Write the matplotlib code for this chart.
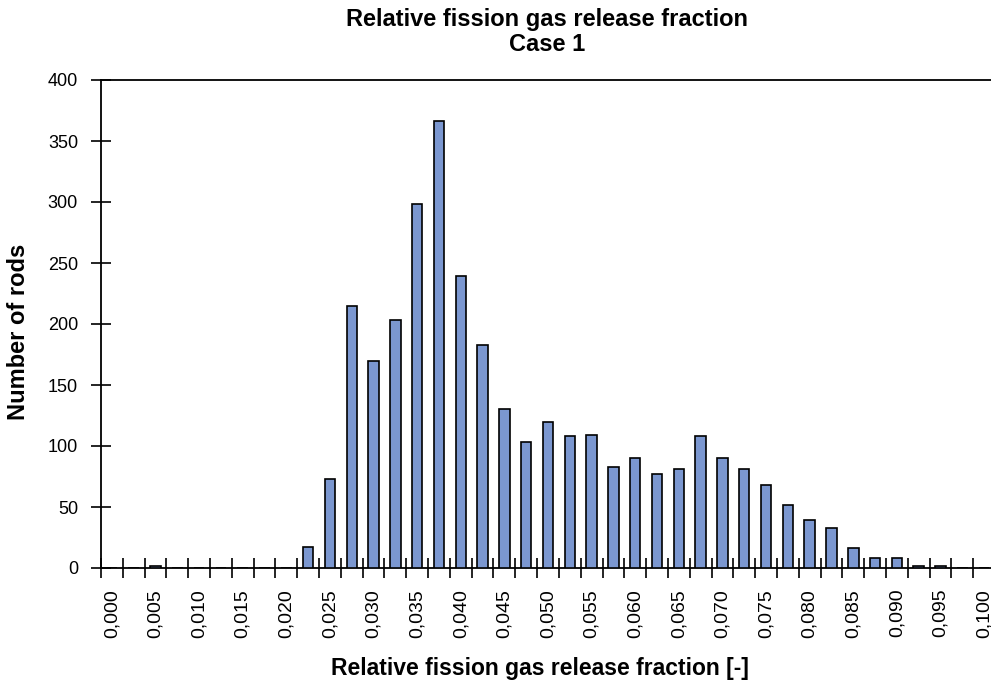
import numpy as np
import matplotlib
matplotlib.use('Agg')
import matplotlib.pyplot as plt

plt.rcParams['font.family'] = ['Liberation Sans', 'DejaVu Sans']

# bin centres 0.000 .. 0.100 in steps of 0.0025 (category axis)
bins = [f"{0.0025 * i:.4f}" for i in range(41)]
counts = [0, 0, 1.5, 0, 0, 0, 0, 0, 0, 17,
          73, 215, 170, 203, 298, 366, 239, 183, 130, 103,
          120, 108, 109, 83, 90, 77, 81, 108, 90, 81,
          68, 52, 39, 33, 16, 8, 8, 1.5, 1.5, 0,
          0]
tick_labels = [f"{0.005 * i:.3f}".replace('.', ',') for i in range(21)]

W, H = 991, 684
fig = plt.figure(figsize=(W / 100, H / 100), dpi=100)
# plot area runs a little past the right edge of the image, as in the original
ax = fig.add_axes([101 / W, 1 - 568 / H, 894 / W, (568 - 80) / H])

x = np.arange(len(bins))
ax.bar(x, counts, width=0.48, color='#7b97d0', edgecolor='black', linewidth=1.2, zorder=3)

ax.set_xlim(-0.5, len(bins) - 0.5)
ax.set_ylim(0, 400)
ax.set_yticks(np.arange(0, 401, 50))
ax.set_xticks(x[::2])
ax.set_xticklabels(tick_labels, rotation=90)
ax.set_xticks(np.arange(-0.5, len(bins), 1), minor=True)
ax.tick_params(axis='x', which='major', length=0, pad=15, labelsize=14)
ax.tick_params(axis='x', which='minor', direction='inout', length=15, width=1.2)
ax.tick_params(axis='y', direction='inout', length=15, width=1.2, labelsize=13, pad=9)

for s in ['left', 'bottom', 'top']:
    ax.spines[s].set_linewidth(1.3)
ax.spines['right'].set_visible(False)

fig.text(547 / W, 1 - 32 / H, 'Relative fission gas release fraction\nCase 1',
         ha='center', va='center', fontsize=17, fontweight='bold', linespacing=1.15)
ax.set_xlabel('Relative fission gas release fraction [-]', fontsize=16.5,
              fontweight='bold', va='center')
ax.xaxis.set_label_coords((540 - 101) / 894, (568 - 668) / 488)
ax.set_ylabel('Number of rods', fontsize=17, fontweight='bold', va='center')
ax.yaxis.set_label_coords((19 - 101) / 894, (568 - 332) / 488)

fig.savefig('out.png', dpi=100)
